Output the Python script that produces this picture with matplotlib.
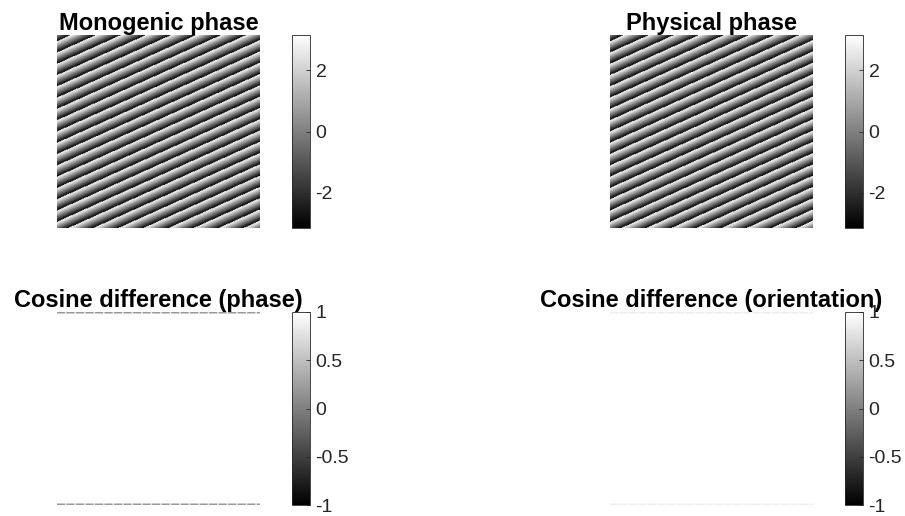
import numpy as np
import matplotlib.pyplot as plt

plt.rcParams["font.family"] = ["Liberation Sans", "DejaVu Sans"]
plt.rcParams["axes.unicode_minus"] = False

# plane-wave phase field parameters
grid_size = 256
cycles_across = 8.1     # stripe cycles along the width
cycles_down = 17.1      # stripe cycles along the height

# cosine-difference maps are 1 everywhere except the first/last rows
phase_edge_dash = [0.2] * 10 + [0.8, 0.8]
orient_edge_dash = [0.86] * 10 + [0.96, 0.96]

titles = ["Monogenic phase", "Physical phase",
          "Cosine difference (phase)", "Cosine difference (orientation)"]
phase_ticks = [-2, 0, 2]
cos_ticks = [-1, -0.5, 0, 0.5, 1]
cos_ticklabels = ["-1", "-0.5", "0", "0.5", "1"]

rows, cols = np.mgrid[0:grid_size, 0:grid_size]
raw = -2 * np.pi * (cycles_across * cols / grid_size + cycles_down * rows / grid_size)
mono_phase = np.angle(np.exp(1j * raw))
phys_phase = mono_phase.copy()


def edge_map(dash):
    img = np.ones((grid_size, grid_size))
    row = np.resize(np.array(dash), grid_size)
    img[:2, :] = row
    img[-2:, :] = row
    return img


cos_phase = edge_map(phase_edge_dash)
cos_orient = edge_map(orient_edge_dash)

fig = plt.figure(figsize=(9.05, 5.16), dpi=100)

W, H = 905.0, 516.0
panels = [
    (mono_phase, 57, 35, 292, (-np.pi, np.pi), phase_ticks, None),
    (phys_phase, 610, 35, 845, (-np.pi, np.pi), phase_ticks, None),
    (cos_phase, 57, 312, 292, (-1, 1), cos_ticks, cos_ticklabels),
    (cos_orient, 610, 312, 845, (-1, 1), cos_ticks, cos_ticklabels),
]

for (img, x0, y0, cx, clim, ticks, tlabels), title in zip(panels, titles):
    ax = fig.add_axes([x0 / W, 1 - (y0 + 193) / H, 203 / W, 193 / H])
    im = ax.imshow(img, cmap="gray", vmin=clim[0], vmax=clim[1],
                   aspect="auto", interpolation="antialiased")
    ax.axis("off")
    ax.set_title(title, fontsize=17, fontweight="bold", pad=3)

    cax = fig.add_axes([cx / W, 1 - (y0 + 193) / H, 18 / W, 193 / H])
    cb = fig.colorbar(im, cax=cax)
    cb.set_ticks(ticks)
    if tlabels is not None:
        cb.set_ticklabels(tlabels)
    cb.outline.set_edgecolor("#262626")
    cb.outline.set_linewidth(0.6)
    cax.tick_params(direction="in", length=3, width=0.6, color="#262626",
                    labelsize=14, labelcolor="#262626", pad=4)

fig.savefig("out.png", dpi=100)
